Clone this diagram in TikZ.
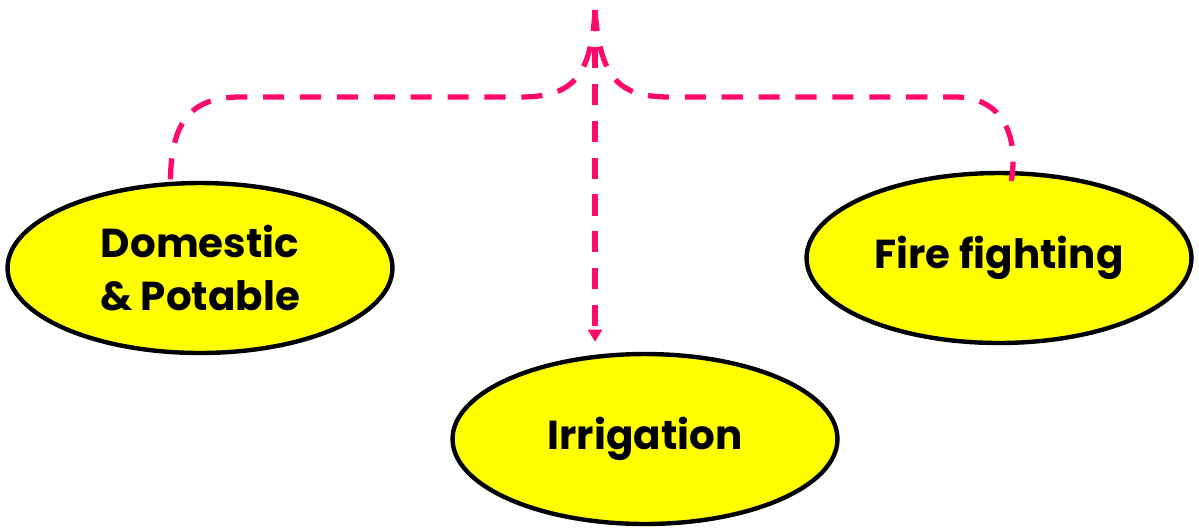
\documentclass[tikz,border=0pt]{standalone}
\usepackage{fontspec}
\newfontfamily\waterfont{Poppins}
\usepackage{tikz}
\usetikzlibrary{arrows.meta,positioning,shapes.geometric}
\definecolor{linkpink}{HTML}{FF0A6C}
\definecolor{usefill}{HTML}{FFFF00}
\tikzset{
  usebox/.style={ellipse,draw=black,line width=2.5pt,fill=usefill,minimum width=7.7cm,minimum height=3.4cm,
    align=center,font=\waterfont\bfseries\fontsize{23}{30}\selectfont},
  link/.style={draw=linkpink,line width=3pt,dash pattern=on 12pt off 9pt},
  linkarr/.style={link,-{Triangle[width=8pt,length=7pt]},shorten >=0.2cm}
}
\begin{document}
\begin{tikzpicture}[x=0.02cm,y=-0.02cm]
  \useasboundingbox (0,0) rectangle (1199,529);
  %% three uses of water, fed from one point at the top
  \node[usebox] (dom) at (200,268) {Domestic\\\& Potable};
  \node[usebox] (fire) at (999,258) {Fire fighting};
  \node[usebox] (irr) at (645,439) {Irrigation};
  \coordinate (top) at (595,10);
  \draw[link] (top) .. controls (591,80) and (570,97) .. (520,97) -- (240,97)
    .. controls (188,97) and (171,125) .. (dom.109);
  \draw[link] (top) .. controls (600,80) and (620,97) .. (670,97) -- (955,97)
    .. controls (1002,97) and (1019,135) .. ([yshift=-0.2cm]fire.82);
  \draw[linkarr] (top) -- (top |- irr.north);
\end{tikzpicture}
\end{document}
